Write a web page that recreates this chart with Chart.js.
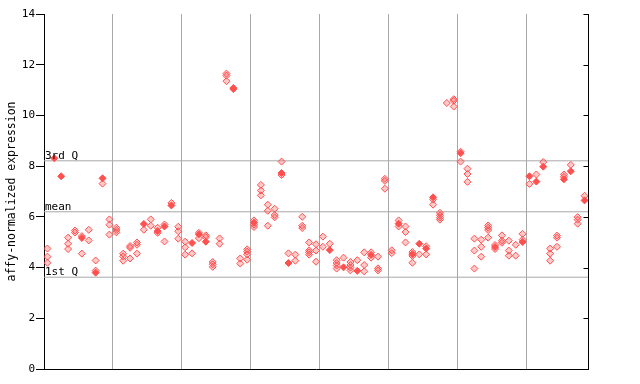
<!DOCTYPE html>
<html>
<head>
<meta charset="utf-8">
<script src="https://cdn.jsdelivr.net/npm/chart.js@4/dist/chart.umd.min.js"></script>
<style>
  html, body { margin: 0; padding: 0; background: #fff; }
  #chart { display: block; }
</style>
</head>
<body>
<canvas id="chart" width="640" height="384"></canvas>
<script>
// Sample columns (0..78) and their expression values, open markers
const hollowCols = [
  0, 0, 0, 3, 3, 3, 4, 4, 5, 5, 6, 6, 7, 7, 8, 9, 9, 9,
  10, 10, 10, 11, 11, 11, 12, 12, 12, 13, 13, 13, 14, 15, 15, 16, 16, 17, 17, 18, 19, 19, 19,
  20, 20, 20, 21, 22, 22, 23, 23, 24, 24, 24, 25, 25, 26, 26, 26, 28, 28, 29, 29, 29, 29,
  30, 30, 30, 31, 31, 31, 32, 32, 32, 33, 33, 33, 34, 34, 35, 36, 36, 37, 37, 37, 38, 38, 38, 38, 39, 39, 39,
  40, 40, 41, 42, 42, 42, 42, 43, 44, 44, 44, 44, 45, 46, 46, 46, 47, 47, 48, 48, 48, 49, 49, 49,
  50, 50, 51, 51, 52, 52, 52, 53, 53, 53, 54, 55, 55, 56, 56, 57, 57, 57, 57, 58, 59, 59, 59,
  60, 60, 61, 61, 61, 62, 62, 62, 63, 63, 63, 64, 64, 64, 64, 65, 65, 66, 66, 66, 67, 67, 67, 68, 68, 69, 69,
  70, 71, 72, 73, 73, 73, 74, 74, 74, 75, 75, 76, 77, 77, 77, 78
];
const hollowVals = [
  4.75, 4.43, 4.19, 5.18, 4.94, 4.73, 5.46, 5.38, 5.24, 4.55, 5.49, 5.07, 4.28, 3.88, 7.31, 5.90, 5.69, 5.30,
  5.57, 5.48, 5.39, 4.55, 4.44, 4.27, 4.85, 4.78, 4.36, 4.99, 4.90, 4.55, 5.49, 5.90, 5.65, 5.57, 5.37, 5.70, 5.03, 6.55, 5.61, 5.43, 5.14,
  5.02, 4.80, 4.51, 4.56, 5.37, 5.16, 5.27, 5.20, 4.22, 4.13, 4.03, 5.15, 4.94, 11.65, 11.57, 11.35, 4.36, 4.16, 4.72, 4.63, 4.52, 4.31,
  5.86, 5.69, 5.60, 7.26, 7.04, 6.85, 6.48, 6.24, 5.65, 6.32, 6.07, 5.98, 8.18, 7.65, 4.56, 4.51, 4.27, 6.00, 5.65, 5.56, 4.99, 4.68, 4.60, 4.51, 4.92, 4.67, 4.23,
  5.22, 4.82, 4.94, 4.29, 4.18, 4.08, 3.96, 4.39, 4.22, 4.10, 4.00, 3.89, 4.29, 4.60, 4.10, 3.85, 4.60, 4.39, 4.43, 3.97, 3.89, 7.50, 7.42, 7.11,
  4.68, 4.57, 5.86, 5.62, 5.62, 5.40, 4.99, 4.61, 4.46, 4.19, 4.52, 4.84, 4.52, 6.69, 6.48, 6.16, 6.06, 5.97, 5.89, 10.49, 10.64, 10.58, 10.35,
  8.57, 8.18, 7.90, 7.69, 7.38, 5.14, 4.67, 3.96, 5.10, 4.82, 4.43, 5.66, 5.57, 5.48, 5.18, 4.89, 4.73, 5.27, 5.06, 4.98, 5.06, 4.67, 4.47, 4.90, 4.47, 5.33, 5.10,
  7.30, 7.67, 8.16, 4.75, 4.55, 4.27, 5.26, 5.18, 4.82, 7.67, 7.58, 8.05, 5.99, 5.89, 5.73, 6.83
];

// Solid markers
const filledCols = [1, 2, 5, 7, 8, 14, 16, 17, 18, 21, 22, 23, 27, 27, 30, 34, 35,
  41, 43, 45, 47, 51, 53, 54, 55, 56, 60, 65, 69, 70, 71, 72, 75, 76, 78];
const filledVals = [8.31, 7.60, 5.17, 3.80, 7.52, 5.72, 5.44, 5.62, 6.45, 4.97, 5.31, 5.02, 11.04, 11.08, 5.77, 7.73, 4.18,
  4.69, 4.01, 3.87, 4.50, 5.73, 4.53, 4.94, 4.75, 6.77, 8.51, 4.81, 5.01, 7.60, 7.39, 7.98, 7.48, 7.80, 6.65];

// Reference lines
const refLabels = ['3rd Q', 'mean', '1st Q'];
const refValues = [8.21, 6.20, 3.62];

const yTicks = [0, 2, 4, 6, 8, 10, 12, 14];
const nCols = 79;

const RED = '#ff5050';
const GRID = '#a8a8a8';
const FONT = '"DejaVu Sans Mono", monospace';

function toPoints(cols, vals) {
  return cols.map((c, i) => ({ x: c + 0.5, y: vals[i] }));
}

// Quartile / mean lines across the whole plot
const refDatasets = refValues.map((v, i) => ({
  type: 'line',
  label: refLabels[i],
  data: [{ x: 0, y: v }, { x: nCols, y: v }],
  borderColor: GRID,
  borderWidth: 1,
  pointRadius: 0,
  order: 3
}));

// Draws the reference line labels and the right-hand frame with inward ticks
const overlayPlugin = {
  id: 'overlay',
  afterDatasetsDraw(chart) {
    const { ctx, chartArea, scales } = chart;
    ctx.save();
    ctx.font = '11px ' + FONT;
    ctx.fillStyle = '#000';
    ctx.textBaseline = 'alphabetic';
    refValues.forEach((v, i) => {
      const y = scales.y.getPixelForValue(v);
      ctx.fillText(refLabels[i], chartArea.left + 1, y - 2);
    });
    ctx.strokeStyle = '#000';
    ctx.lineWidth = 1;
    const rx = Math.round(chartArea.right) + 0.5;
    ctx.beginPath();
    ctx.moveTo(rx, chartArea.top);
    ctx.lineTo(rx, chartArea.bottom);
    yTicks.forEach(t => {
      const y = Math.round(scales.y.getPixelForValue(t)) + 0.5;
      ctx.moveTo(rx - 5, y);
      ctx.lineTo(rx, y);
    });
    ctx.stroke();
    ctx.restore();
  }
};

new Chart(document.getElementById('chart'), {
  type: 'scatter',
  data: {
    datasets: [
      {
        label: 'open',
        data: toPoints(hollowCols, hollowVals),
        pointStyle: 'rectRot',
        pointRadius: 3.5,
        borderWidth: 1,
        borderColor: RED,
        backgroundColor: 'rgba(255,80,80,0.3)',
        order: 2
      },
      {
        label: 'solid',
        data: toPoints(filledCols, filledVals),
        pointStyle: 'rectRot',
        pointRadius: 3.5,
        borderWidth: 1,
        borderColor: RED,
        backgroundColor: RED,
        order: 1
      },
      ...refDatasets
    ]
  },
  options: {
    responsive: false,
    devicePixelRatio: 1,
    animation: false,
    layout: { padding: { left: 0, right: 52, top: 14, bottom: 15 } },
    plugins: {
      legend: { display: false },
      tooltip: { enabled: false }
    },
    scales: {
      x: {
        type: 'linear',
        min: 0,
        max: nCols,
        ticks: { display: false, stepSize: 10 },
        grid: {
          drawTicks: false,
          color: c => (c.tick.value > 0 && c.tick.value < nCols) ? GRID : 'rgba(0,0,0,0)',
          lineWidth: 1
        },
        border: { display: true, color: '#000', width: 1 },
        afterFit: s => { s.height = 0; }
      },
      y: {
        min: 0,
        max: 14,
        afterBuildTicks: s => { s.ticks = yTicks.map(v => ({ value: v })); },
        ticks: { color: '#000', font: { family: FONT, size: 11 }, padding: 1 },
        grid: { drawOnChartArea: false, tickLength: 8, color: '#000' },
        border: { display: true, color: '#000', width: 1 },
        title: {
          display: true,
          text: 'affy-normalized expression',
          color: '#000',
          font: { family: FONT, size: 11.5 },
          padding: { top: 5, bottom: 0 }
        },
        afterFit: s => { s.width = 44; }
      }
    }
  },
  plugins: [overlayPlugin]
});
</script>
</body>
</html>
